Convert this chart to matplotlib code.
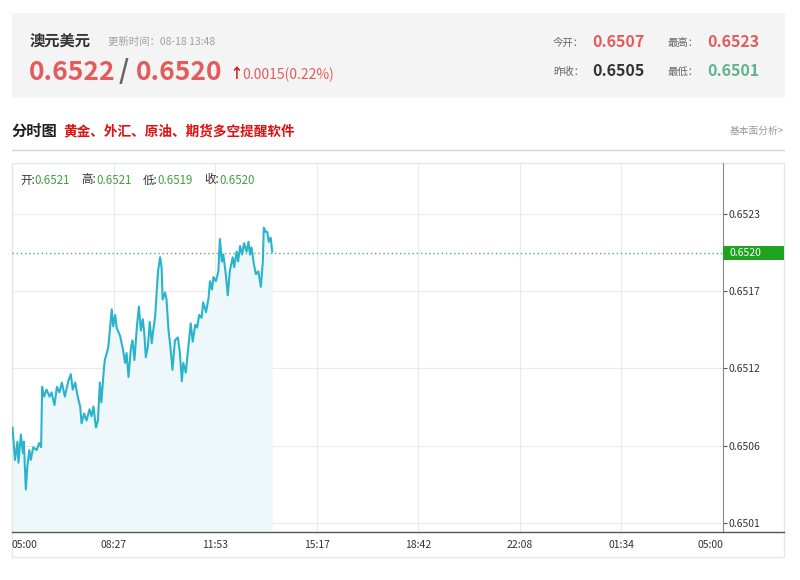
import matplotlib
matplotlib.use("Agg")
import matplotlib.pyplot as plt
import matplotlib.transforms as mtransforms
from matplotlib.patches import Rectangle
from matplotlib.ticker import FormatStrFormatter

plt.rcParams['font.family'] = ['Noto Sans CJK SC', 'DejaVu Sans']

# 分时数据：距 05:00 的分钟数与价格
minutes = [1, 6, 11, 13, 18, 22, 24, 28, 31, 35, 38, 43, 50, 55, 59,
           61, 65, 70, 76, 80, 86, 91, 96, 101, 107, 114, 119, 123, 128, 133,
           138, 141, 146, 151, 157, 161, 165, 170, 174, 178, 181, 186, 188, 195, 202,
           205, 209, 212, 219, 225, 229, 232, 236, 241, 244, 248, 253, 257, 261, 265,
           268, 271, 275, 279, 283, 286, 290, 293, 296, 300, 303, 305, 310, 313, 317,
           321, 325, 330, 336, 340, 344, 347, 352, 357, 362, 366, 371, 375, 379, 384,
           387, 393, 398, 401, 405, 408, 413, 418, 421, 425, 428, 433, 437, 441, 447,
           450, 455, 458, 462, 466, 470, 475, 479, 482, 485, 490, 494, 499, 504, 508,
           510, 514, 517, 520, 524, 527]
prices = [0.65076, 0.65053, 0.65066, 0.65051, 0.65071, 0.65058, 0.65066, 0.65032, 0.65048, 0.65060,
          0.65053, 0.65062, 0.65060, 0.65065, 0.65062,
          0.65105, 0.65098, 0.65103, 0.65098, 0.65101, 0.65092, 0.65105, 0.65101, 0.65108, 0.65098,
          0.65109, 0.65114, 0.65103, 0.65108, 0.65098,
          0.65091, 0.65079, 0.65086, 0.65081, 0.65089, 0.65084, 0.65091, 0.65076, 0.65081, 0.65108,
          0.65094, 0.65117, 0.65124, 0.65133, 0.65160,
          0.65148, 0.65156, 0.65147, 0.65141, 0.65131, 0.65122, 0.65129, 0.65112, 0.65133, 0.65138,
          0.65124, 0.65148, 0.65162, 0.65145, 0.65153,
          0.65143, 0.65126, 0.65133, 0.65151, 0.65136, 0.65145, 0.65155, 0.65172, 0.65188, 0.65197,
          0.65190, 0.65167, 0.65172, 0.65167, 0.65145,
          0.65133, 0.65117, 0.65138, 0.65140, 0.65129, 0.65109, 0.65122, 0.65115, 0.65133, 0.65150,
          0.65137, 0.65149, 0.65147, 0.65156, 0.65154,
          0.65165, 0.65158, 0.65168, 0.65180, 0.65174, 0.65183, 0.65180, 0.65187, 0.65210, 0.65194,
          0.65199, 0.65185, 0.65170, 0.65187, 0.65197,
          0.65190, 0.65201, 0.65194, 0.65205, 0.65199, 0.65207, 0.65201, 0.65208, 0.65199, 0.65204,
          0.65192, 0.65185, 0.65187, 0.65176, 0.65194,
          0.65218, 0.65215, 0.65215, 0.65208, 0.65211, 0.65201]

x_ticks = [0, 205.7, 411.4, 617.1, 822.9, 1028.6, 1234.3, 1440]
x_labels = ["05:00", "08:27", "11:53", "15:17", "18:42", "22:08", "01:34", "05:00"]
y_ticks = [0.65008, 0.65063, 0.65118, 0.65173, 0.65228]
last_price = 0.6520
ohlc_names = ["开:", "高:", "低:", "收:"]
ohlc_values = ["0.6521", "0.6521", "0.6519", "0.6520"]

W, H = 800, 580
fig = plt.figure(figsize=(W / 100, H / 100), dpi=100)


def fx(x):
    return x / W


def fy(y):
    return 1 - y / H


def box(x0, y0, x1, y1, **kw):
    fig.add_artist(Rectangle((fx(x0), fy(y1)), fx(x1) - fx(x0), fy(y0) - fy(y1),
                             transform=fig.transFigure, **kw))


# 顶部报价区
box(12, 13, 785, 98, facecolor='#f4f4f4', edgecolor='none', zorder=0)
red = '#e35b5b'
fig.text(fx(30), fy(42), "澳元美元", fontsize=11, fontweight='bold', color='#333333', va='center')
fig.text(fx(108), fy(42), "更新时间：08-18 13:48", fontsize=7.5, color='#a0a0a0', va='center')
fig.text(fx(29), fy(72), "0.6522", fontsize=19, fontweight='bold', color=red, va='center')
fig.text(fx(119), fy(72), "/", fontsize=19, fontweight='bold', color='#666666', va='center')
fig.text(fx(136), fy(72), "0.6520", fontsize=19, fontweight='bold', color=red, va='center')
fig.text(fx(229), fy(74), "↑", fontsize=10, fontweight='bold', color='#c81010', va='center')
fig.text(fx(242), fy(75), "0.0015(0.22%)", fontsize=10, color=red, va='center')

fig.text(fx(553), fy(43), "今开：", fontsize=7.5, color='#666666', va='center')
fig.text(fx(592), fy(42), "0.6507", fontsize=11.5, fontweight='bold', color=red, va='center')
fig.text(fx(668), fy(43), "最高：", fontsize=7.5, color='#666666', va='center')
fig.text(fx(707), fy(42), "0.6523", fontsize=11.5, fontweight='bold', color=red, va='center')
fig.text(fx(553), fy(72), "昨收：", fontsize=7.5, color='#666666', va='center')
fig.text(fx(592), fy(71), "0.6505", fontsize=11.5, fontweight='bold', color='#333333', va='center')
fig.text(fx(668), fy(72), "最低：", fontsize=7.5, color='#666666', va='center')
fig.text(fx(707), fy(71), "0.6501", fontsize=11.5, fontweight='bold', color='#5fb38f', va='center')

# 标题栏
fig.text(fx(12), fy(131), "分时图", fontsize=11, fontweight='bold', color='#222222', va='center')
fig.text(fx(63), fy(131), "黄金、外汇、原油、期货多空提醒软件", fontsize=9.8, fontweight='bold',
         color='#e01010', va='center')
fig.text(fx(784), fy(131), "基本面分析>", fontsize=7, color='#999999', va='center', ha='right')
fig.add_artist(plt.Line2D([fx(12), fx(784)], [fy(150), fy(150)], transform=fig.transFigure,
                          color='#d6d6d6', lw=1))

# 图表外框
box(12, 163, 784, 557, facecolor='white', edgecolor='#e6e6e6', lw=1, zorder=0)

ax = fig.add_axes([fx(12), fy(531.7), fx(723) - fx(12), fy(163) - fy(531.7)])
ax.set_facecolor('none')
ax.set_xlim(0, 1440)
ax.set_ylim(0.65002, 0.65264)

ax.fill_between(minutes, prices, 0.65002, color='#eef8fb', lw=0, zorder=1)
ax.plot(minutes, prices, color='#2ab4cc', lw=1.5, zorder=3)
ax.axhline(last_price, color='#55b055', lw=1, ls=(0, (1, 2)), zorder=2)

for t in x_ticks[1:-1]:
    ax.axvline(t, color='#eaeaea', lw=0.8, zorder=0)
for t in y_ticks:
    ax.axhline(t, color='#eaeaea', lw=0.8, zorder=0)

ax.spines['top'].set_visible(False)
ax.spines['left'].set_visible(False)
ax.spines['right'].set_color('#888888')
ax.spines['bottom'].set_visible(False)
fig.add_artist(plt.Line2D([fx(12), fx(784)], [fy(531.7), fy(531.7)], transform=fig.transFigure,
                          color='#555555', lw=1))

ax.yaxis.tick_right()
ax.set_yticks(y_ticks)
ax.yaxis.set_major_formatter(FormatStrFormatter('%.4f'))
ax.tick_params(axis='y', length=3, width=0.8, color='#555555', labelsize=7.5,
               labelcolor='#333333', pad=1)

ax.set_xticks(x_ticks)
ax.set_xticklabels(x_labels)
ax.tick_params(axis='x', length=0, labelsize=7.5, labelcolor='#333333', pad=6)
labels = ax.get_xticklabels()
labels[0].set_ha('left')
labels[-1].set_ha('right')

# 最新价标签
trans = mtransforms.blended_transform_factory(ax.transAxes, ax.transData)
ax.add_patch(Rectangle((1.0, last_price - 0.00005), 61 / 711, 0.0001, transform=trans,
                       facecolor='#1fa31f', edgecolor='none', clip_on=False, zorder=5))
ax.text(1.0 + 7 / 711, last_price, "0.6520", transform=trans, fontsize=7.5, color='white',
        va='center', ha='left', zorder=6, clip_on=False)

# 开高低收
renderer = fig.canvas.get_renderer()
for i, (name, val) in enumerate(zip(ohlc_names, ohlc_values)):
    t = fig.text(fx(20 + i * 61.5), fy(180), name, fontsize=8.3, color='#333333', va='center')
    bb = t.get_window_extent(renderer=renderer)
    fig.text(bb.x1 / W, fy(180), val, fontsize=8.3, color='#3da33d', va='center')

fig.savefig("out.png", dpi=100)
